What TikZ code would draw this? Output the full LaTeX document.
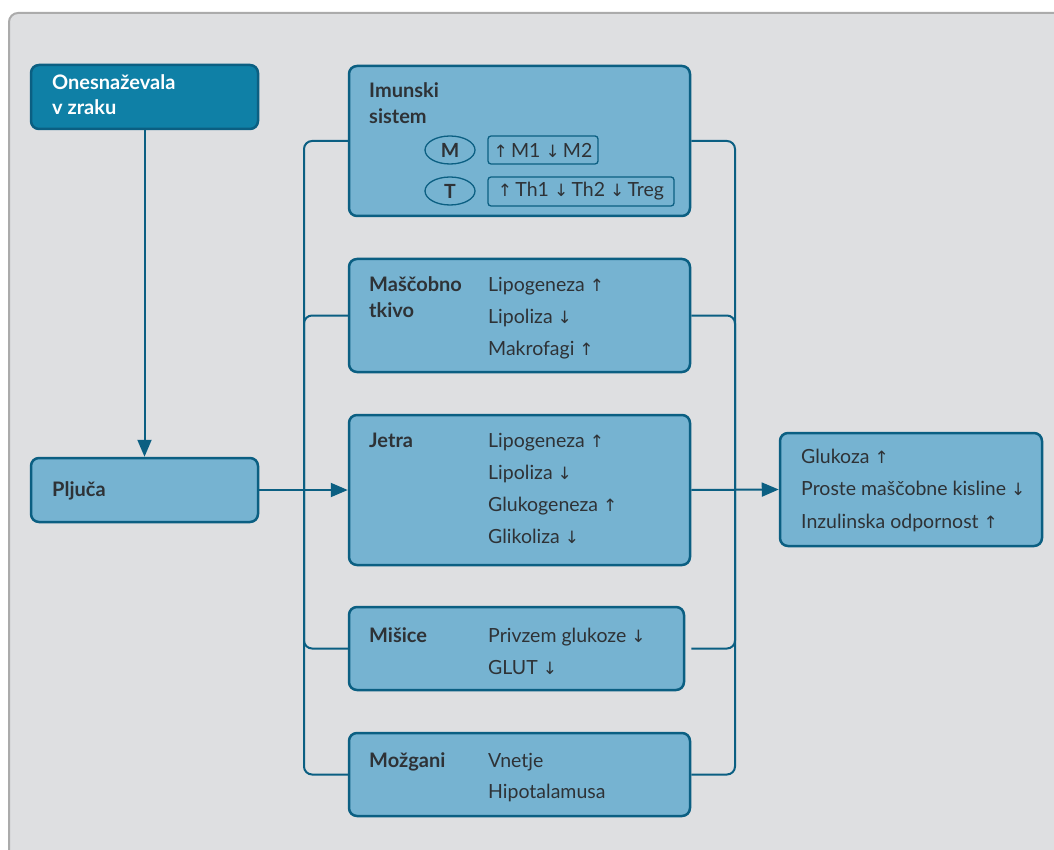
\documentclass[tikz,border=0pt]{standalone}
\usepackage{fontspec}
\setmainfont{Lato}
\newfontfamily\arrowfont{DejaVu Sans}
\usetikzlibrary{arrows.meta,shapes.geometric}

\definecolor{panelgray}{HTML}{DEDFE1}
\definecolor{panelline}{HTML}{ABABAB}
\definecolor{boxblue}{HTML}{76B3D1}
\definecolor{darkblue}{HTML}{0F80A6}
\definecolor{lineblue}{HTML}{0B5F82}
\definecolor{textgray}{HTML}{2E3236}

\newcommand{\arup}{{\arrowfont\fontsize{17}{17}\selectfont ↑}}
\newcommand{\ardn}{{\arrowfont\fontsize{17}{17}\selectfont ↓}}

\begin{document}
\begin{tikzpicture}[x=1pt,y=-1pt,
    organ/.style={draw=lineblue, fill=boxblue, line width=2.5pt, rounded corners=8pt, inner sep=0pt},
    head/.style={anchor=base west, inner sep=0pt, text=textgray, font=\fontsize{20}{22}\selectfont\bfseries},
    item/.style={anchor=base west, inner sep=0pt, text=textgray, font=\fontsize{19.5}{22}\selectfont},
    tag/.style={draw=lineblue, line width=1.3pt, text=textgray, inner sep=0pt, font=\fontsize{19.5}{22}\selectfont},
    conn/.style={draw=lineblue, line width=2pt, -{Triangle[length=17pt,width=14pt]}},
    bus/.style={draw=lineblue, line width=2pt, rounded corners=8pt}]
    \useasboundingbox (0,0) rectangle (1054,850);
    \draw[panelline, fill=panelgray, line width=2pt, rounded corners=9pt] (9,13) rectangle (1090,890);

    % buses behind the boxes
    \coordinate (lbus) at (304,490);
    \coordinate (rbus) at (735,490);

    \node[organ, fill=darkblue, minimum width=227pt, minimum height=64pt] (onesn) at (144.5,97) {};
    \node[organ, minimum width=227pt, minimum height=64pt] (pljuca) at (144.5,490) {};
    \node[organ, minimum width=341pt, minimum height=150pt] (imun) at (519.5,141) {};
    \node[organ, minimum width=341pt, minimum height=113pt] (fat) at (519.5,315.5) {};
    \node[organ, minimum width=341pt, minimum height=150pt] (jetra) at (519.5,490) {};
    \node[organ, minimum width=335pt, minimum height=83pt] (misice) at (516.5,648.5) {};
    \node[organ, minimum width=341pt, minimum height=83pt] (mozg) at (519.5,774.5) {};
    \node[organ, minimum width=262pt, minimum height=113pt] (out) at (911,489.5) {};

    \draw[bus] (imun.west) -| (lbus);
    \draw[bus] (fat.west) -| (lbus);
    \draw[bus] (misice.west) -| (lbus);
    \draw[bus] (mozg.west) -| (lbus);
    \draw[bus] (imun.east) -| (rbus);
    \draw[bus] (fat.east) -| (rbus);
    \draw[bus] ([xshift=6pt]misice.east) -| (rbus);
    \draw[bus] (mozg.east) -| (rbus);

    \draw[conn] (onesn.south) -- (pljuca.north);
    \draw[conn] (pljuca.east) -- (jetra.west);
    \draw[conn] (jetra.east) -- (out.west);

    \node[head, text=white] (onesn1) at (52,90) {Onesnaževala};
    \node[head, text=white] (onesn2) at (52,115) {v zraku};
    \node[head] (pljuca1) at (52,496) {Pljuča};

    % imunski sistem
    \node[head] (imun1) at (369,98) {Imunski};
    \node[head] (imun2) at (369,124) {sistem};
    \node[tag, ellipse, minimum width=50pt, minimum height=28pt, font=\fontsize{19.5}{22}\selectfont\bfseries] (mcell) at (450,150) {M};
    \node[tag, ellipse, minimum width=50pt, minimum height=28pt, font=\fontsize{19.5}{22}\selectfont\bfseries] (tcell) at (450,191) {T};
    \node[tag, rounded corners=3pt, minimum width=110pt, minimum height=28pt] (mtag) at (543,150) {\arup\,M1 \ardn\,M2};
    \node[tag, rounded corners=3pt, minimum width=186pt, minimum height=29pt] (ttag) at (581,191.5) {\arup\,Th1 \ardn\,Th2 \ardn\,Treg};

    \node[head] (fat1) at (369,291) {Maščobno};
    \node[head] (fat2) at (369,317) {tkivo};
    \foreach \t [count=\i] in {Lipogeneza \arup, Lipoliza \ardn, Makrofagi \arup}
        \node[item] (fatitem\i) at (488,291+32*\i-32) {\t};

    \node[head] (jetra1) at (369,447) {Jetra};
    \foreach \t [count=\i] in {Lipogeneza \arup, Lipoliza \ardn, Glukogeneza \arup, Glikoliza \ardn}
        \node[item] (jetraitem\i) at (488,447+32*\i-32) {\t};

    \node[head] (misice1) at (369,642) {Mišice};
    \foreach \t [count=\i] in {Privzem glukoze \ardn, GLUT \ardn}
        \node[item] (misiceitem\i) at (488,642+32*\i-32) {\t};

    \node[head] (mozg1) at (369,767) {Možgani};
    \foreach \t [count=\i] in {Vnetje, Hipotalamusa}
        \node[item] (mozgitem\i) at (488,767+31*\i-31) {\t};

    \foreach \t [count=\i] in {Glukoza \arup, Proste maščobne kisline \ardn, Inzulinska odpornost \arup}
        \node[item] (outitem\i) at (801,463+32.5*\i-32.5) {\t};
\end{tikzpicture}
\end{document}
